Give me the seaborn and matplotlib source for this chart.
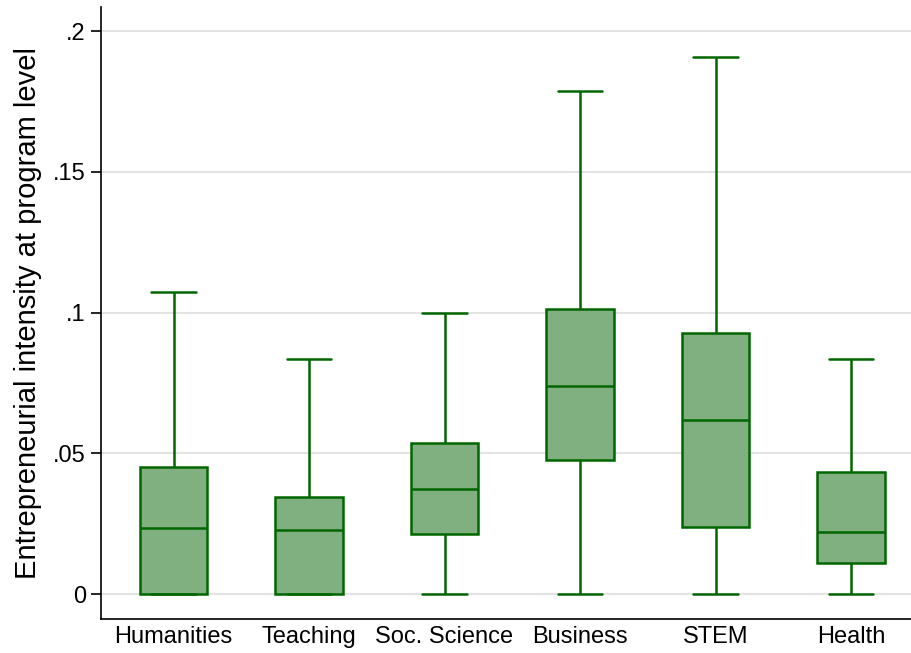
import matplotlib
matplotlib.use("Agg")
import matplotlib.pyplot as plt
import seaborn as sns
import pandas as pd
import numpy as np

categories = ["Humanities", "Teaching", "Soc. Science", "Business", "STEM", "Health"]
whisker_low = [0.0, 0.0, 0.0, 0.0, 0.0, 0.0]
q1 = [0.0, 0.0, 0.0212, 0.0477, 0.0238, 0.0111]
median = [0.0236, 0.0227, 0.0372, 0.0740, 0.0617, 0.0219]
q3 = [0.0450, 0.0346, 0.0535, 0.1013, 0.0926, 0.0435]
whisker_high = [0.1072, 0.0834, 0.0999, 0.1787, 0.1907, 0.0834]
ytick_values = [0, 0.05, 0.1, 0.15, 0.2]
ytick_labels = ["0", ".05", ".1", ".15", ".2"]
ylabel = "Entrepreneurial intensity at program level"

# five-number summaries as points: with 5 points, linear quartiles reproduce them exactly
rows = []
for i, c in enumerate(categories):
    for v in (whisker_low[i], q1[i], median[i], q3[i], whisker_high[i]):
        rows.append({"program": c, "value": v})
df = pd.DataFrame(rows)

sns.set_style("white")
plt.rcParams["font.family"] = ["Liberation Sans", "DejaVu Sans"]
plt.rcParams["text.color"] = "black"
plt.rcParams["axes.labelcolor"] = "black"
plt.rcParams["xtick.color"] = "black"
plt.rcParams["ytick.color"] = "black"

fig = plt.figure(figsize=(9.11, 6.53), dpi=100)
ax = fig.add_axes([0.111, 0.052, 0.889, 0.937])

edge = "#006600"
fill = "#80B080"
sns.boxplot(data=df, x="program", y="value", order=categories, ax=ax,
            whis=np.inf, width=0.5, color=fill, linecolor=edge, linewidth=1.8,
            saturation=1, capwidths=0.33, zorder=3)

ax.set_xlim(-0.535, 5.443)
ax.set_ylim(-0.00888, 0.2085)
ax.set_yticks(ytick_values)
ax.set_yticklabels(ytick_labels)
ax.yaxis.grid(True, color="#e3e3e3", linewidth=1.5, zorder=0)
ax.set_axisbelow(True)
ax.set_xlabel("")
ax.set_ylabel(ylabel, fontsize=21, labelpad=8, color="black")
ax.tick_params(axis="y", length=7, width=1.2, colors="black", labelsize=17, left=True, pad=4)
ax.tick_params(axis="x", length=0, labelsize=17, colors="black", pad=5)
for s in ["top", "right"]:
    ax.spines[s].set_visible(False)
for s in ["left", "bottom"]:
    ax.spines[s].set_color("black")
    ax.spines[s].set_linewidth(1.2)

fig.savefig("out.png", dpi=100)
